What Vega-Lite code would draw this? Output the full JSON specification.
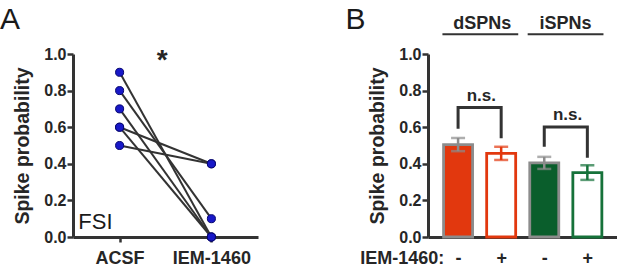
{
  "$schema": "https://vega.github.io/schema/vega-lite/v6.json",
  "padding": {"top": 4, "left": 0, "right": 0, "bottom": 0},
  "background": "white",
  "spacing": 170,
  "bounds": "flush",
  "config": {
    "view": {"stroke": null},
    "font": "Liberation Sans",
    "axis": {
      "domainColor": "#333333",
      "domainWidth": 3,
      "tickColor": "#333333",
      "tickWidth": 2.5,
      "labelFont": "Liberation Sans",
      "labelFontWeight": "bold",
      "labelColor": "#262626",
      "titleFont": "Liberation Sans",
      "titleFontWeight": "bold",
      "titleColor": "#262626",
      "grid": false
    }
  },
  "datasets": {
    "fsi": [
      {"pair": 1, "cond": "ACSF", "x": 1, "y": 0.9},
      {"pair": 1, "cond": "IEM-1460", "x": 2, "y": 0.0},
      {"pair": 2, "cond": "ACSF", "x": 1, "y": 0.8},
      {"pair": 2, "cond": "IEM-1460", "x": 2, "y": 0.1},
      {"pair": 3, "cond": "ACSF", "x": 1, "y": 0.7},
      {"pair": 3, "cond": "IEM-1460", "x": 2, "y": 0.0},
      {"pair": 4, "cond": "ACSF", "x": 1, "y": 0.6},
      {"pair": 4, "cond": "IEM-1460", "x": 2, "y": 0.4},
      {"pair": 5, "cond": "ACSF", "x": 1, "y": 0.6},
      {"pair": 5, "cond": "IEM-1460", "x": 2, "y": 0.0},
      {"pair": 6, "cond": "ACSF", "x": 1, "y": 0.5},
      {"pair": 6, "cond": "IEM-1460", "x": 2, "y": 0.4}
    ],
    "spn": [
      {"group": "dSPN -", "cell": "dSPNs", "iem": "-", "x": 1, "y": 0.505, "sem": 0.036},
      {"group": "dSPN +", "cell": "dSPNs", "iem": "+", "x": 2, "y": 0.457, "sem": 0.036},
      {"group": "iSPN -", "cell": "iSPNs", "iem": "-", "x": 3, "y": 0.405, "sem": 0.033},
      {"group": "iSPN +", "cell": "iSPNs", "iem": "+", "x": 4, "y": 0.352, "sem": 0.04}
    ],
    "brackets": [
      {"b": "d", "o": 1, "x": 1, "y": 0.592},
      {"b": "d", "o": 2, "x": 1, "y": 0.707},
      {"b": "d", "o": 3, "x": 2, "y": 0.707},
      {"b": "d", "o": 4, "x": 2, "y": 0.539},
      {"b": "i", "o": 1, "x": 3, "y": 0.493},
      {"b": "i", "o": 2, "x": 3, "y": 0.601},
      {"b": "i", "o": 3, "x": 4, "y": 0.601},
      {"b": "i", "o": 4, "x": 4, "y": 0.433}
    ],
    "groupLines": [
      {"label": "dSPNs", "x": 0.637, "x2": 2.396, "y": 1.108},
      {"label": "iSPNs", "x": 2.615, "x2": 4.374, "y": 1.108}
    ],
    "groupLabels": [
      {"label": "dSPNs", "x": 1.56, "y": 1.137},
      {"label": "iSPNs", "x": 3.495, "y": 1.137}
    ],
    "ns": [
      {"label": "n.s.", "x": 1.54, "y": 0.743},
      {"label": "n.s.", "x": 3.54, "y": 0.639}
    ]
  },
  "hconcat": [
    {
      "width": 185,
      "height": 183,
      "encoding": {
        "x": {
          "field": "x",
          "type": "quantitative",
          "scale": {"domain": [0.492, 2.508], "nice": false, "zero": false},
          "axis": {
            "values": [1, 2],
            "labelExpr": "datum.value == 1 ? 'ACSF' : 'IEM-1460'",
            "title": null,
            "labelFontSize": 18,
            "tickSize": 5,
            "labelPadding": 7.5
          }
        },
        "y": {
          "field": "y",
          "type": "quantitative",
          "scale": {"domain": [0, 1], "nice": false, "zero": false},
          "axis": {
            "values": [0, 0.2, 0.4, 0.6, 0.8, 1],
            "format": ".1f",
            "title": "Spike probability",
            "titleFontSize": 19.5,
            "labelFontSize": 16,
            "tickSize": 6,
            "labelPadding": 1,
            "titlePadding": 11
          }
        }
      },
      "layer": [
        {
          "data": {"name": "fsi"},
          "mark": {"type": "line", "color": "#333333", "strokeWidth": 2},
          "encoding": {"detail": {"field": "pair"}}
        },
        {
          "data": {"name": "fsi"},
          "mark": {"type": "point", "filled": true, "fill": "#1818c8", "stroke": "#06066e", "strokeWidth": 1, "size": 65, "opacity": 1}
        },
        {
          "data": {"values": [{"label": "A", "x": -0.303, "y": 1.138}]},
          "mark": {"type": "text", "align": "left", "baseline": "alphabetic", "fontSize": 30, "fontWeight": "normal", "color": "#1a1a1a"},
          "encoding": {"text": {"field": "label"}}
        },
        {
          "data": {"values": [{"label": "*", "x": 1.465, "y": 0.918}]},
          "mark": {"type": "text", "align": "center", "baseline": "alphabetic", "fontSize": 28, "fontWeight": "bold", "color": "#262626"},
          "encoding": {"text": {"field": "label"}}
        },
        {
          "data": {"values": [{"label": "FSI", "x": 0.55, "y": 0.0437}]},
          "mark": {"type": "text", "align": "left", "baseline": "alphabetic", "fontSize": 22, "fontWeight": "normal", "color": "#1a1a1a"},
          "encoding": {"text": {"field": "label"}}
        }
      ]
    },
    {
      "width": 189,
      "height": 183,
      "encoding": {
        "x": {
          "field": "x",
          "type": "quantitative",
          "scale": {"domain": [0.418, 4.572], "nice": false, "zero": false},
          "axis": {
            "values": [1, 2, 3, 4],
            "labelExpr": "datum.value % 2 == 1 ? '-' : '+'",
            "title": null,
            "labelFontSize": 18,
            "tickSize": 5,
            "tickOpacity": 0,
            "labelPadding": 7.5
          }
        },
        "y": {
          "field": "y",
          "type": "quantitative",
          "scale": {"domain": [0, 1], "nice": false, "zero": false},
          "axis": {
            "values": [0, 0.2, 0.4, 0.6, 0.8, 1],
            "format": ".1f",
            "title": "Spike probability",
            "titleFontSize": 19.5,
            "labelFontSize": 16,
            "tickSize": 6,
            "labelPadding": 1,
            "titlePadding": 11
          }
        }
      },
      "layer": [
        {
          "data": {"name": "spn"},
          "mark": {"type": "bar", "size": 29, "strokeWidth": 2.8},
          "encoding": {
            "fill": {
              "field": "group",
              "type": "nominal",
              "scale": {"domain": ["dSPN -", "dSPN +", "iSPN -", "iSPN +"], "range": ["#e2380e", "#ffffff", "#0a5e2c", "#ffffff"]},
              "legend": null
            },
            "stroke": {
              "field": "group",
              "type": "nominal",
              "scale": {"domain": ["dSPN -", "dSPN +", "iSPN -", "iSPN +"], "range": ["#8c8c8c", "#e2380e", "#8c8c8c", "#16723a"]},
              "legend": null
            }
          }
        },
        {
          "data": {"name": "spn"},
          "mark": {"type": "errorbar", "ticks": true, "size": 14, "thickness": 2.5},
          "encoding": {
            "yError": {"field": "sem"},
            "color": {
              "field": "group",
              "type": "nominal",
              "scale": {"domain": ["dSPN -", "dSPN +", "iSPN -", "iSPN +"], "range": ["#8c8c8c", "#e2380e", "#8c8c8c", "#16723a"]},
              "legend": null
            }
          }
        },
        {
          "data": {"name": "brackets"},
          "mark": {"type": "line", "color": "#333333", "strokeWidth": 3, "strokeJoin": "miter"},
          "encoding": {"detail": {"field": "b"}, "order": {"field": "o"}}
        },
        {
          "data": {"name": "groupLines"},
          "mark": {"type": "rule", "color": "#333333", "strokeWidth": 2},
          "encoding": {"x2": {"field": "x2"}}
        },
        {
          "data": {"name": "groupLabels"},
          "mark": {"type": "text", "align": "center", "baseline": "alphabetic", "fontSize": 18, "fontWeight": "bold", "color": "#262626"},
          "encoding": {"text": {"field": "label"}}
        },
        {
          "data": {"name": "ns"},
          "mark": {"type": "text", "align": "center", "baseline": "alphabetic", "fontSize": 17, "fontWeight": "bold", "color": "#262626"},
          "encoding": {"text": {"field": "label"}}
        },
        {
          "data": {"values": [{"label": "IEM-1460:", "x": 0.681, "y": -0.1475}]},
          "mark": {"type": "text", "align": "right", "baseline": "alphabetic", "fontSize": 18, "fontWeight": "bold", "color": "#262626"},
          "encoding": {"text": {"field": "label"}}
        },
        {
          "data": {"values": [{"label": "B", "x": -1.613, "y": 1.138}]},
          "mark": {"type": "text", "align": "left", "baseline": "alphabetic", "fontSize": 30, "fontWeight": "normal", "color": "#1a1a1a"},
          "encoding": {"text": {"field": "label"}}
        }
      ]
    }
  ]
}
